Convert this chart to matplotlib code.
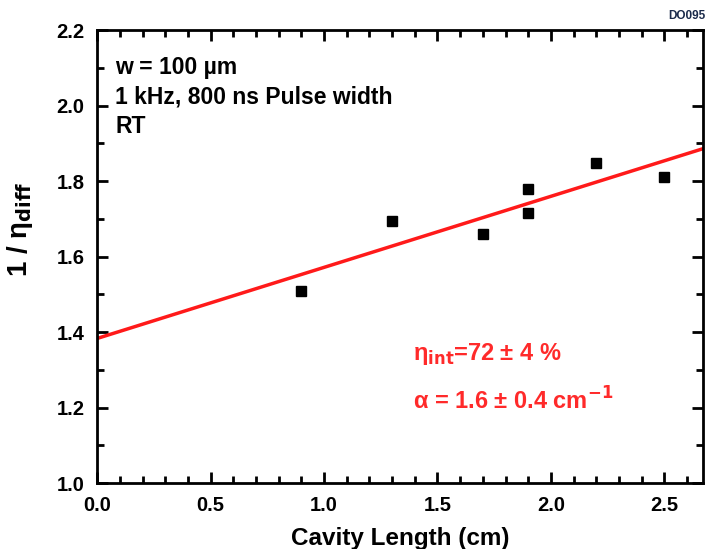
import numpy as np
import matplotlib.pyplot as plt
from matplotlib.ticker import MultipleLocator

# measured points
cavity_length = [0.9, 1.3, 1.7, 1.9, 1.9, 2.2, 2.5]
inv_eta = [1.51, 1.695, 1.66, 1.78, 1.715, 1.848, 1.81]

x_ticks = [0.0, 0.5, 1.0, 1.5, 2.0, 2.5]
y_ticks = [1.0, 1.2, 1.4, 1.6, 1.8, 2.0, 2.2]

plt.rcParams['font.family'] = ['Liberation Sans', 'DejaVu Sans']
plt.rcParams['font.weight'] = 'bold'

fig = plt.figure(figsize=(7.09, 5.49), dpi=100)
ax = fig.add_axes([0.137, 0.12, 0.8545, 0.825])

# linear fit
slope, intercept = np.polyfit(cavity_length, inv_eta, 1)
xfit = np.array([0.0, 2.67])
ax.plot(xfit, intercept + slope * xfit, color='#ff1a1a', lw=2.5, zorder=2)
ax.plot(cavity_length, inv_eta, 's', color='black', ms=6.5, zorder=3)

ax.set_xlim(0, 2.67)
ax.set_ylim(1.0, 2.2)
ax.set_xticks(x_ticks)
ax.set_yticks(y_ticks)
ax.xaxis.set_minor_locator(MultipleLocator(0.1))
ax.yaxis.set_minor_locator(MultipleLocator(0.1))
ax.tick_params(which='both', direction='in', top=True, right=True, width=2,
               labelsize=14.5)
ax.tick_params(which='major', length=8)
ax.tick_params(which='minor', length=5)
ax.tick_params(axis='x', pad=9)
ax.tick_params(axis='y', pad=9)
for lab in ax.get_xticklabels() + ax.get_yticklabels():
    lab.set_fontweight('bold')
for sp in ax.spines.values():
    sp.set_linewidth(2)

ax.set_xlabel('Cavity Length (cm)', fontsize=17.5, fontweight='bold', labelpad=9)
ax.set_ylabel(r'1 / $\mathregular{\eta}$$_{\mathbf{diff}}$', fontsize=20,
              fontweight='bold')
ax.yaxis.set_label_coords(-0.102, 0.56)

ax.text(0.03, 0.942, 'w = 100 µm\n1 kHz, 800 ns Pulse width\nRT',
        transform=ax.transAxes, fontsize=16.5, fontweight='bold',
        va='top', ha='left', linespacing=1.35)

red = '#ff2a2a'
ax.text(1.39, 1.326, r'$\mathregular{\eta}$$_{\mathbf{int}}$=72 ± 4 %', color=red,
        fontsize=17, fontweight='bold')
ax.text(1.39, 1.195, r'$\mathregular{\alpha}$ = 1.6 ± 0.4 cm$^{\mathbf{-1}}$',
        color=red, fontsize=17, fontweight='bold')

fig.text(0.942, 0.971, 'DO095', fontsize=8.5, fontweight='bold',
         color='#1a2a4a', va='center')

fig.savefig('out.png', dpi=100)
